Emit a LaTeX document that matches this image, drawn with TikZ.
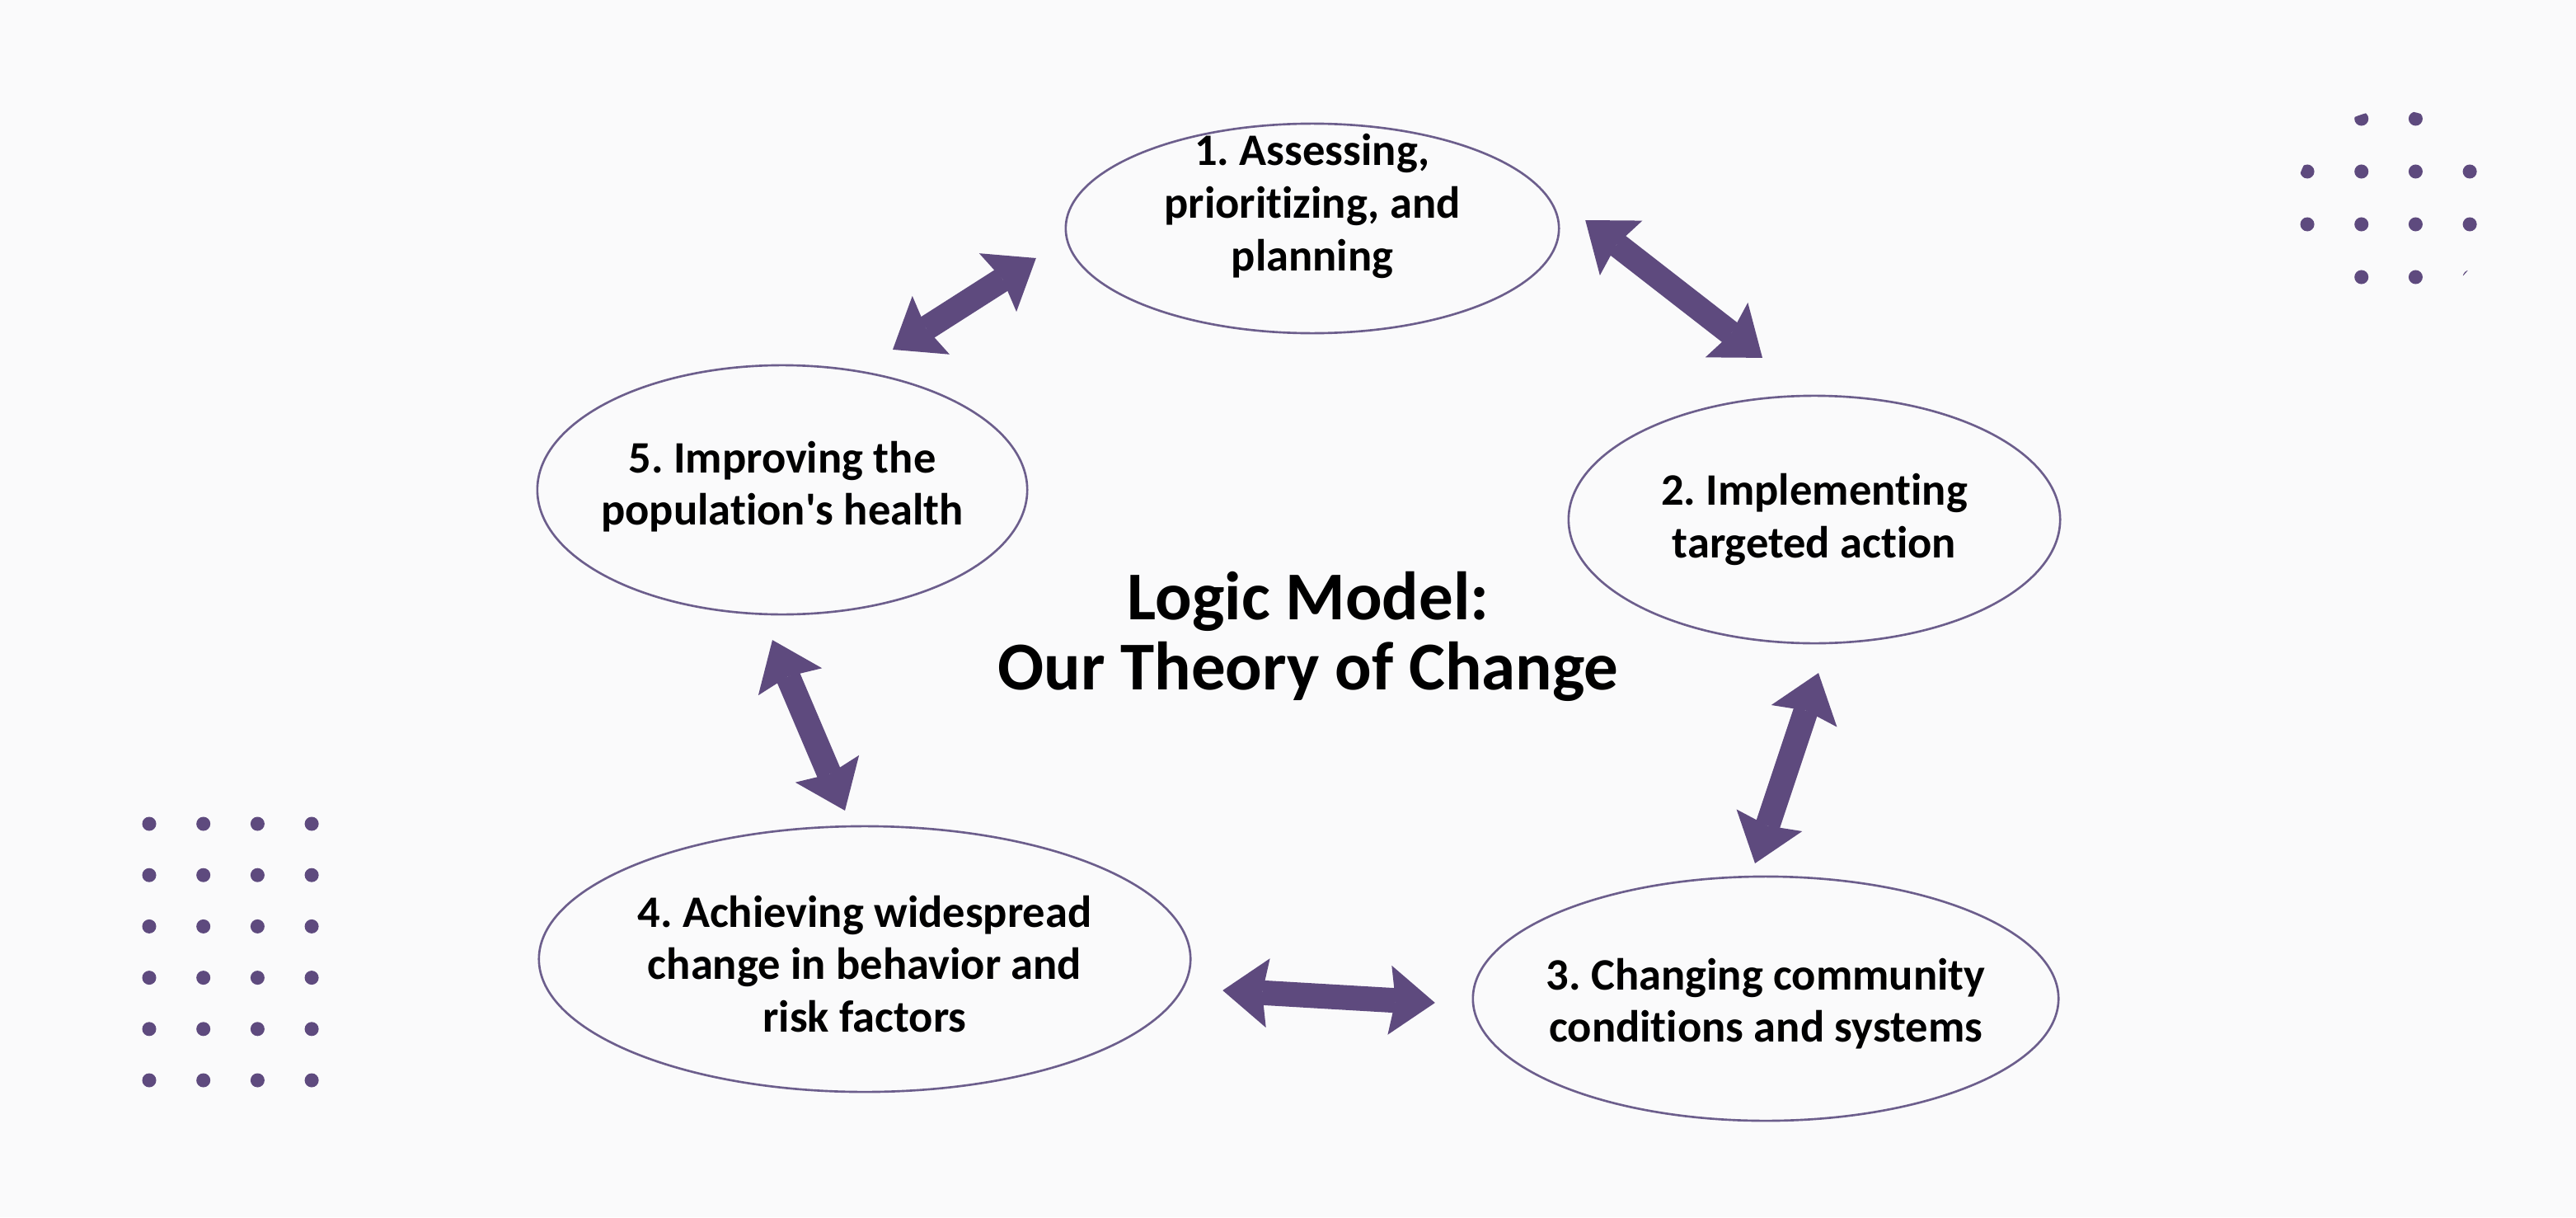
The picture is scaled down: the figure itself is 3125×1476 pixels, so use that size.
\documentclass[tikz,border=0pt]{standalone}
\usepackage{fontspec}
\setmainfont{Carlito}[Ligatures={NoCommon}]
\frenchspacing
\usetikzlibrary{shapes.geometric, arrows.meta}
\definecolor{bgc}{RGB}{250,250,251}
\definecolor{plum}{RGB}{94,74,126}
\definecolor{ringc}{RGB}{108,94,140}

\begin{document}
\begin{tikzpicture}[x=0.01cm, y=-0.01cm,
    stage/.style={ellipse, draw=ringc, line width=0.75pt, inner sep=0pt, outer sep=0pt},
    stagetext/.style={align=center, inner sep=0pt, font=\bfseries\fontsize{0.545cm}{0.635cm}\selectfont},
    title/.style={align=center, inner sep=0pt, font=\bfseries\fontsize{0.83cm}{0.85cm}\selectfont},
    >={Stealth[length=0.55cm, width=0.84cm, inset=0.07cm, line width=0pt]},
    link/.style={draw=plum, line width=0.3cm, <->},
    dot/.style={fill=plum}]
    \fill[bgc] (0,0) rectangle (3125,1476);
    \useasboundingbox (0,0) rectangle (3125,1476);

    \node[stage, minimum width=5.98cm, minimum height=2.54cm] (s1) at (1592,277) {};
    \node[stage, minimum width=5.96cm, minimum height=3.00cm] (s2) at (2201,630) {};
    \node[stage, minimum width=7.10cm, minimum height=2.96cm] (s3) at (2142,1211) {};
    \node[stage, minimum width=7.90cm, minimum height=3.22cm] (s4) at (1049,1163) {};
    \node[stage, minimum width=5.94cm, minimum height=3.02cm] (s5) at (949,594) {};

    \node[stagetext] (t1) at ([yshift=0.27cm]s1.center) {1. Assessing,\\prioritizing, and\\planning};
    \node[stagetext] (t2) at (s2.center) {2. Implementing\\targeted action};
    \node[stagetext] (t3) at ([yshift=-0.06cm]s3.center) {3. Changing community\\conditions and systems};
    \node[stagetext] (t4) at ([yshift=-0.06cm]s4.center) {4. Achieving widespread\\change in behavior and\\risk factors};
    \node[stagetext] (t5) at ([yshift=0.04cm]s5.center) {5. Improving the\\population\textquotesingle s health};

    \node[title] (head) at (1587,772) {Logic Model:\\Our Theory of Change};

    \draw[link] ([shift={(134,-19)}]s5.north) -- ([shift={(-36,36)}]s1.west);
    \draw[link] ([shift={(32,-10)}]s1.east) -- ([shift={(-63,-46)}]s2.north);
    \draw[link] ([shift={(5,36)}]s2.south) -- ([shift={(-13,-16)}]s3.north);
    \draw[link] ([shift={(-46,5)}]s3.west) -- ([shift={(39,38)}]s4.east);
    \draw[link] ([shift={(-24,-19)}]s4.north) -- ([shift={(-12,31)}]s5.south);

    \foreach \i in {0,...,3}
        \foreach \j in {0,...,5}
            \fill[dot] (181+65.7*\i, 999+62.2*\j) circle[radius=0.085cm];
    \begin{scope}
        \clip (2902,252) circle[radius=1.19cm];
        \foreach \i in {0,...,3}
            \foreach \j in {0,...,3}
                \fill[dot] (2799+65.7*\i, 144+64*\j) circle[radius=0.085cm];
    \end{scope}
\end{tikzpicture}
\end{document}
